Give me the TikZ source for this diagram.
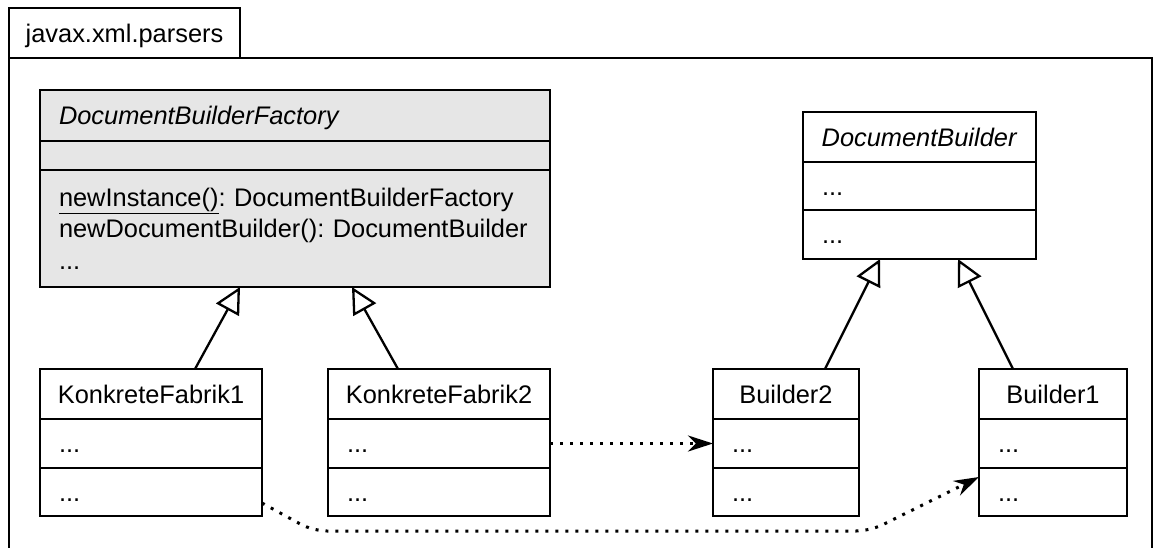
\documentclass[tikz,border=0pt]{standalone}
\usepackage{fontspec}
\setmainfont{Liberation Sans}
\usepackage{tikz}
\usetikzlibrary{positioning,arrows.meta}

\definecolor{factgray}{HTML}{E6E6E6}

\tikzset{
  part/.style={draw, line width=2.3pt, inner xsep=19pt, inner ysep=0pt, outer sep=0pt, align=left},
  oneline/.style={text height=18.2pt, text depth=0pt},
  title/.style={part, oneline, inner xsep=0pt, align=center},
  gen/.style={line width=2.3pt, -{Triangle[open, length=26pt, width=26pt]}},
  uses/.style={line width=3pt, dash pattern=on 3pt off 7pt, rounded corners=14pt, -{Stealth[length=25pt, width=16pt, inset=8pt]}},
}

\begin{document}
\frenchspacing
\begin{tikzpicture}[x=1pt, y=-1pt, font=\fontsize{25.4}{31.5}\selectfont]
        \useasboundingbox (0,0) rectangle (1157,547);
        % package frame
        \node[title, anchor=north west, minimum width=231pt, minimum height=50pt] (pkgtab) at (9,8) {javax.xml.parsers};
        \coordinate (pkgend) at (1152,552);
        \draw[line width=2.3pt] (pkgtab.south west |- pkgend) -- (pkgtab.south west) -| (pkgend);
        % abstract factory
        \node[part, oneline, fill=factgray, anchor=north west, text width=472pt, minimum height=51pt] (dbfA) at (40,90) {\textit{DocumentBuilderFactory}};
        \node[part, fill=factgray, below=0pt of dbfA, text width=472pt, minimum height=29pt] (dbfB) {};
        \node[part, fill=factgray, below=0pt of dbfB, text width=472pt, minimum height=117pt] (dbfC) {\underline{newInstance()}: DocumentBuilderFactory\\ newDocumentBuilder(): DocumentBuilder\\ ...};
        % abstract product
        \node[title, anchor=north west, minimum width=233pt, minimum height=50pt] (dbA) at (803,112) {\textit{DocumentBuilder}};
        \node[part, oneline, below=0pt of dbA, text width=195pt, minimum height=48pt] (dbB) {...};
        \node[part, oneline, below=0pt of dbB, text width=195pt, minimum height=49pt] (dbC) {...};
        % concrete factories
        \node[title, anchor=north west, minimum width=222pt, minimum height=50pt] (kf1A) at (40,369) {KonkreteFabrik1};
        \node[part, oneline, below=0pt of kf1A, text width=184pt, minimum height=49pt] (kf1B) {...};
        \node[part, oneline, below=0pt of kf1B, text width=184pt, minimum height=48pt] (kf1C) {...};
        \node[title, anchor=north west, minimum width=222pt, minimum height=50pt] (kf2A) at (328,369) {KonkreteFabrik2};
        \node[part, oneline, below=0pt of kf2A, text width=184pt, minimum height=49pt] (kf2B) {...};
        \node[part, oneline, below=0pt of kf2B, text width=184pt, minimum height=48pt] (kf2C) {...};
        % concrete builders
        \node[title, anchor=north west, minimum width=146pt, minimum height=50pt] (b2A) at (713,369) {Builder2};
        \node[part, oneline, below=0pt of b2A, text width=108pt, minimum height=49pt] (b2B) {...};
        \node[part, oneline, below=0pt of b2B, text width=108pt, minimum height=48pt] (b2C) {...};
        \node[title, anchor=north west, minimum width=148pt, minimum height=50pt] (b1A) at (979,369) {Builder1};
        \node[part, oneline, below=0pt of b1A, text width=110pt, minimum height=49pt] (b1B) {...};
        \node[part, oneline, below=0pt of b1B, text width=110pt, minimum height=48pt] (b1C) {...};
        % generalisation
        \draw[gen] ([xshift=44pt]kf1A.north) -- ([xshift=-55pt]dbfC.south);
        \draw[gen] ([xshift=-41pt]kf2A.north) -- ([xshift=57pt]dbfC.south);
        \draw[gen] ([xshift=39pt]b2A.north) -- ([xshift=-39.5pt]dbC.south);
        \draw[gen] ([xshift=-40pt]b1A.north) -- ([xshift=38.5pt]dbC.south);
        % dependencies
        \coordinate (bendA) at (313,531);
        \coordinate (bendB) at (870,531);
        \draw[uses] (kf2B.east) -- (b2B.west);
        \draw[uses] ([yshift=-11pt]kf1C.east) -- (bendA) -- (bendB) -- ([yshift=15pt]b1C.west);
    \end{tikzpicture}
\end{document}
